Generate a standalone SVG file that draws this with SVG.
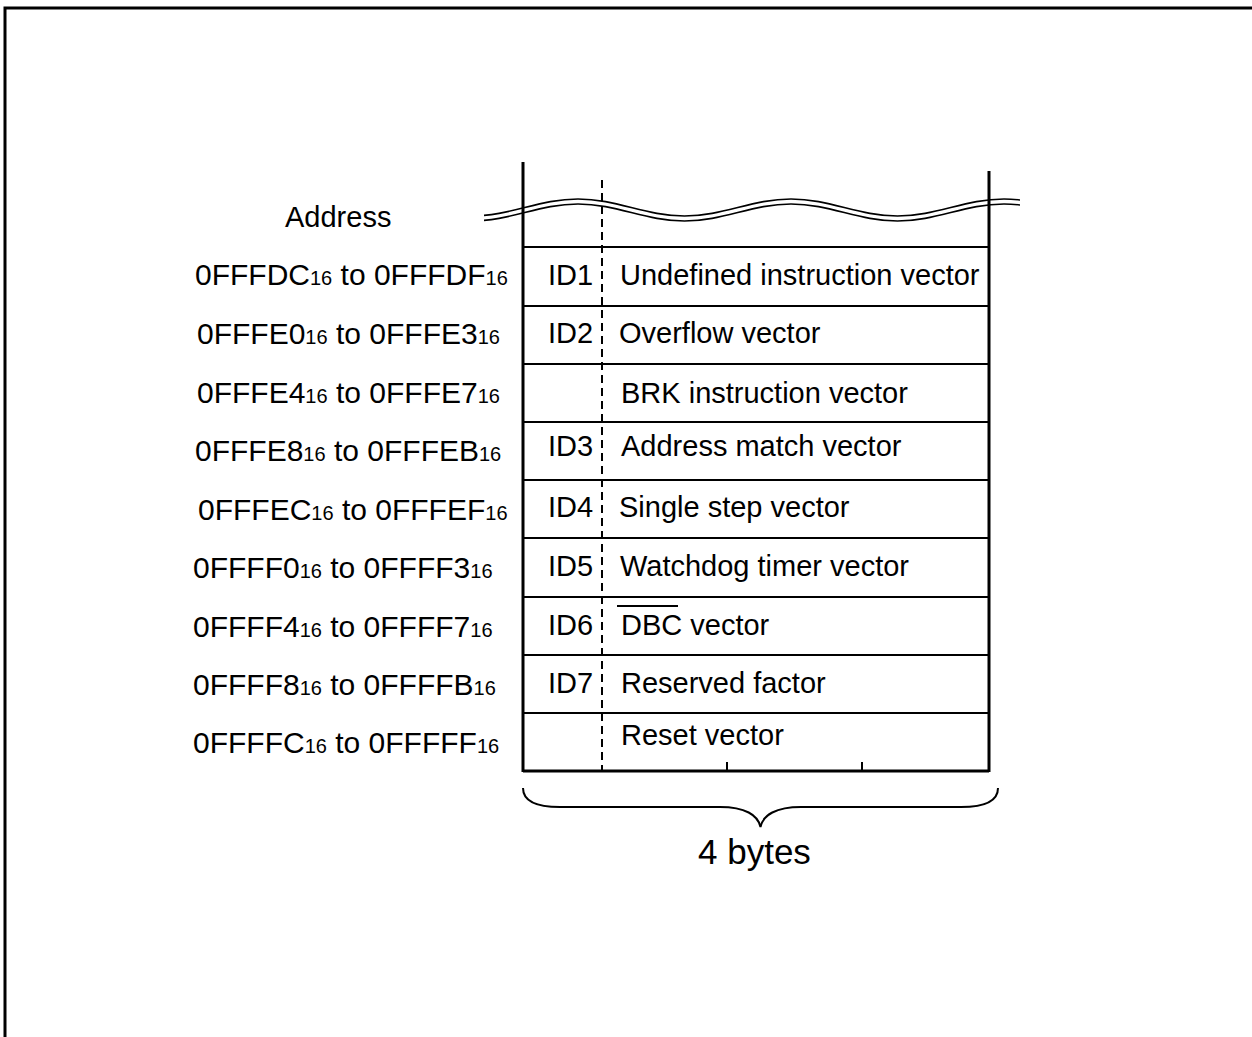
<svg xmlns="http://www.w3.org/2000/svg" width="1252" height="1037" viewBox="0 0 1252 1037">
<style>
text{font-family:"Liberation Sans",Arial,sans-serif;font-size:29px;fill:#000}
.addr{font-size:30px}
.sub{font-size:20px}
.big{font-size:35px}
.thick{stroke:#000;stroke-width:3;fill:none}
.thin{stroke:#000;stroke-width:2;fill:none}
.wave{stroke:#000;stroke-width:1.6;fill:none}
.dash{stroke:#000;stroke-width:2;stroke-dasharray:8 5;fill:none}
</style>
<defs>
<path id="wv" d="M471.5,216 C510.3,216 539.2,199 578,199 C616.8,199 645.7,216 684.5,216 C723.3,216 752.2,199 791,199 C829.8,199 858.7,216 897.5,216 C936.3,216 965.2,199 1004,199 C1042.8,199 1071.7,216 1110.5,216"/>
<clipPath id="wc"><rect x="484" y="180" width="536" height="60"/></clipPath>
</defs>
<rect width="1252" height="1037" fill="#fff"/>
<path class="thick" d="M5,1037 V8 H1252"/>
<g id="frame">
<line class="thick" x1="523" y1="162" x2="523" y2="772"/>
<line class="thick" x1="989" y1="171" x2="989" y2="772"/>
<line class="thick" x1="523" y1="771" x2="989" y2="771"/>
<line class="dash" x1="602" y1="180" x2="602" y2="770"/>
<line class="thin" x1="727" y1="762" x2="727" y2="771"/>
<line class="thin" x1="862" y1="762" x2="862" y2="771"/>
</g>
<g id="break" clip-path="url(#wc)">
<use href="#wv" class="wave"/>
<use href="#wv" class="wave" transform="translate(0,5)"/>
</g>
<g id="connectors">
<line class="thin" x1="523" y1="247" x2="989" y2="247"/>
<line class="thin" x1="523" y1="306" x2="989" y2="306"/>
<line class="thin" x1="523" y1="364" x2="989" y2="364"/>
<line class="thin" x1="523" y1="422" x2="989" y2="422"/>
<line class="thin" x1="523" y1="480" x2="989" y2="480"/>
<line class="thin" x1="523" y1="538" x2="989" y2="538"/>
<line class="thin" x1="523" y1="597" x2="989" y2="597"/>
<line class="thin" x1="523" y1="655" x2="989" y2="655"/>
<line class="thin" x1="523" y1="713" x2="989" y2="713"/>
</g>
<g id="addr-title"><text x="285" y="227">Address</text></g>
<g id="addresses" class="addr">
<text class="addr" x="195" y="285">0FFFDC<tspan class="sub">16</tspan> to 0FFFDF<tspan class="sub">16</tspan></text>
<text class="addr" x="197" y="344">0FFFE0<tspan class="sub">16</tspan> to 0FFFE3<tspan class="sub">16</tspan></text>
<text class="addr" x="197" y="403">0FFFE4<tspan class="sub">16</tspan> to 0FFFE7<tspan class="sub">16</tspan></text>
<text class="addr" x="195" y="461">0FFFE8<tspan class="sub">16</tspan> to 0FFFEB<tspan class="sub">16</tspan></text>
<text class="addr" x="198" y="520">0FFFEC<tspan class="sub">16</tspan> to 0FFFEF<tspan class="sub">16</tspan></text>
<text class="addr" x="193" y="578">0FFFF0<tspan class="sub">16</tspan> to 0FFFF3<tspan class="sub">16</tspan></text>
<text class="addr" x="193" y="637">0FFFF4<tspan class="sub">16</tspan> to 0FFFF7<tspan class="sub">16</tspan></text>
<text class="addr" x="193" y="695">0FFFF8<tspan class="sub">16</tspan> to 0FFFFB<tspan class="sub">16</tspan></text>
<text class="addr" x="193" y="753">0FFFFC<tspan class="sub">16</tspan> to 0FFFFF<tspan class="sub">16</tspan></text>
</g>
<g id="row1"><text x="548" y="285">ID1</text><text x="620" y="285">Undefined instruction vector</text></g>
<g id="row2"><text x="548" y="343">ID2</text><text x="619" y="343">Overflow vector</text></g>
<g id="row3"><text x="621" y="403">BRK instruction vector</text></g>
<g id="row4"><text x="548" y="456">ID3</text><text x="621" y="456">Address match vector</text></g>
<g id="row5"><text x="548" y="517">ID4</text><text x="619" y="517">Single step vector</text></g>
<g id="row6"><text x="548" y="576">ID5</text><text x="620" y="576">Watchdog timer vector</text></g>
<g id="row7"><text x="548" y="635">ID6</text><text x="621" y="635">DBC vector</text><line class="thin" x1="617" y1="606" x2="678" y2="606"/></g>
<g id="row8"><text x="548" y="693">ID7</text><text x="621" y="693">Reserved factor</text></g>
<g id="row9"><text x="621" y="745">Reset vector</text></g>
<g id="brace">
<path class="thin" d="M523,788 C523,800 535,807 560,807 L720,807 C745,807 758,815 760.5,827 C763,815 776,807 801,807 L961,807 C986,807 998,800 998,788"/>
<text class="big" x="698" y="864">4 bytes</text>
</g>
</svg>
